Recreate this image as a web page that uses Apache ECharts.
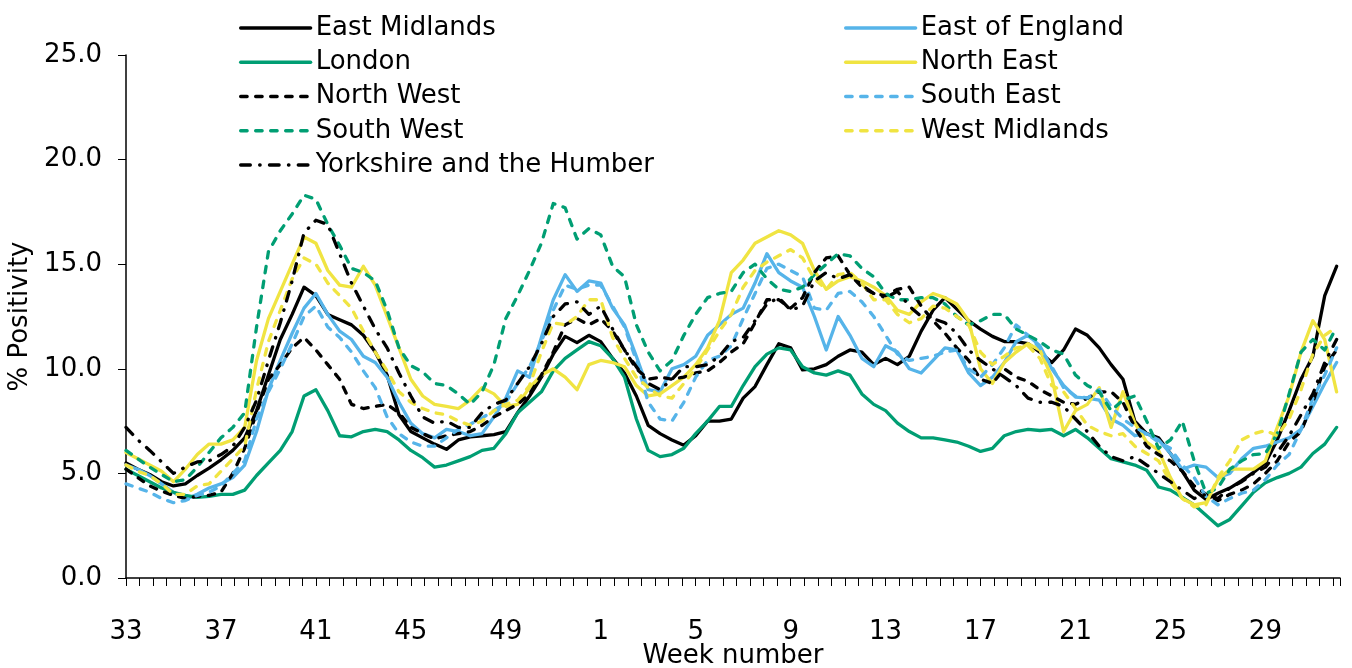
<!DOCTYPE html>
<html>
<head>
<meta charset="utf-8">
<title>% Positivity by region</title>
<script src="https://cdn.jsdelivr.net/npm/echarts@6/dist/echarts.min.js"></script>
<style>
  html, body { margin: 0; padding: 0; background: #fff; }
  #chart { width: 1352px; height: 668px; }
</style>
</head>
<body>
<div id="chart"></div>
<script>
// x positions: a reading every half week, day 0 = start of week 33
var days = [];
for (var j = 0; j < 103; j++) days.push(j * 3.5);

// one label every 28 days (4 weeks)
var weekLabels = ['33', '37', '41', '45', '49', '1', '5', '9', '13', '17', '21', '25', '29'];

var eastMidlands = [
  5.5, 5.2, 4.95, 4.6, 4.4, 4.5, 4.9, 5.25, 5.65, 6.1, 6.7, 8.0, 9.7, 11.4, 12.6, 13.9, 13.5, 12.6, 12.35, 12.1, 11.6, 10.8, 9.7, 7.8, 7.0, 6.7, 6.4,
  6.15, 6.6, 6.75, 6.8, 6.85, 7.0, 7.9, 8.7, 9.6, 10.7, 11.55, 11.25, 11.6, 11.3, 10.5, 9.8, 8.7, 7.3, 6.9, 6.6, 6.35, 6.8, 7.5, 7.5, 7.6,
  8.6, 9.15, 10.2, 11.2, 11.0, 9.95, 10.0, 10.2, 10.6, 10.9, 10.8, 10.2, 10.5, 10.2, 10.6, 11.8, 12.8, 13.4, 12.85, 12.3, 11.9, 11.55, 11.3, 11.3, 11.2, 10.8,
  10.3, 10.9, 11.9, 11.6, 11.0, 10.2, 9.5, 7.5, 6.9, 6.7, 5.95, 5.1, 4.2, 3.75, 4.05, 4.3, 4.65, 5.05, 5.5, 6.6, 8.0, 9.5, 10.6, 13.5, 14.9
];
var eastOfEngland = [
  5.4, 5.2, 4.9, 4.5, 4.1, 3.75, 4.0, 4.3, 4.5, 4.8, 5.4, 7.0, 9.0, 10.4, 11.7, 12.9, 13.6, 12.6, 11.8, 11.4, 10.6, 10.3, 9.6, 8.4, 7.4, 6.9, 6.7,
  7.1, 7.0, 6.8, 6.9, 7.7, 8.6, 9.9, 9.6, 11.5, 13.3, 14.5, 13.7, 14.2, 14.1, 12.9, 12.1, 10.6, 9.0, 8.9, 10.0, 10.2, 10.6, 11.6, 12.1, 12.6,
  12.9, 14.1, 15.5, 14.6, 14.2, 13.9, 12.5, 10.9, 12.5, 11.6, 10.5, 10.1, 11.1, 10.8, 10.0, 9.8, 10.4, 11.0, 10.9, 9.8, 9.2, 9.6, 10.3, 11.3, 11.6, 11.1,
  10.0, 9.2, 8.65, 8.6, 8.5, 7.6, 7.3, 6.8, 6.9, 6.6, 5.95, 5.2, 5.4, 5.3, 4.8, 5.0, 5.7, 6.2, 6.3, 6.5, 6.7, 7.1, 8.2, 9.3, 10.3
];
var london = [
  5.2, 4.9, 4.6, 4.3, 4.1, 3.95, 3.85, 3.9, 4.0, 4.0, 4.2, 4.9, 5.5, 6.1, 7.0, 8.7, 9.0, 8.0, 6.8, 6.75, 7.0, 7.1, 7.0, 6.6, 6.1, 5.75, 5.3,
  5.4, 5.6, 5.8, 6.1, 6.2, 6.9, 7.9, 8.4, 8.9, 9.9, 10.5, 10.9, 11.3, 11.1, 10.5, 9.6, 7.6, 6.1, 5.8, 5.9, 6.2, 6.9, 7.5, 8.2, 8.2,
  9.2, 10.1, 10.7, 11.0, 10.9, 10.1, 9.8, 9.7, 9.9, 9.7, 8.8, 8.3, 8.0, 7.4, 7.0, 6.7, 6.7, 6.6, 6.5, 6.3, 6.05, 6.2, 6.8, 7.0, 7.1, 7.05,
  7.1, 6.8, 7.1, 6.7, 6.2, 5.7, 5.55, 5.4, 5.15, 4.35, 4.2, 3.85, 3.5, 3.0, 2.5, 2.8, 3.45, 4.1, 4.55, 4.8, 5.0, 5.3, 5.95, 6.4, 7.2
];
var northEast = [
  6.0, 5.7, 5.4, 5.1, 4.6, 5.2, 5.9, 6.4, 6.4, 6.6, 7.2, 10.4, 12.4, 13.7, 15.0, 16.3, 16.0, 14.7, 14.0, 13.9, 14.9, 14.0, 12.5, 11.0, 9.5, 8.7, 8.3,
  8.2, 8.1, 8.5, 9.1, 8.8, 8.2, 8.3, 9.1, 9.7, 10.0, 9.6, 9.0, 10.2, 10.4, 10.3, 10.1, 9.2, 8.7, 8.8, 9.2, 9.6, 10.2, 11.0, 12.3, 14.6,
  15.2, 16.0, 16.3, 16.6, 16.4, 16.0, 14.7, 13.8, 14.2, 14.4, 14.2, 13.9, 13.5, 12.8, 12.6, 13.2, 13.6, 13.4, 13.1, 12.3, 10.0, 9.3, 10.3, 10.8, 11.2, 10.9,
  9.6, 7.0, 8.0, 8.3, 9.1, 7.2, 8.9, 7.4, 6.5, 6.1, 4.8, 3.8, 3.5, 3.6, 4.7, 5.2, 5.2, 5.2, 5.6, 7.2, 8.7, 10.8, 12.3, 11.4, 8.9
];
var northWest = [
  5.2, 4.8, 4.4, 4.15, 3.95, 3.8, 3.9, 3.95, 4.1, 5.0, 6.2, 7.9, 9.5, 10.2, 11.0, 11.5, 10.9, 10.2, 9.5, 8.3, 8.1, 8.2, 8.3, 7.9, 7.2, 6.9, 6.65,
  6.8, 6.9, 7.0, 7.3, 7.7, 8.0, 8.3, 8.8, 9.7, 10.8, 12.1, 12.4, 12.1, 12.4, 11.8, 10.9, 10.0, 9.5, 9.6, 9.5, 9.6, 9.8, 9.9, 10.3, 10.8,
  11.2, 12.2, 13.3, 13.3, 12.9, 13.4, 14.6, 15.3, 15.4, 14.5, 13.9, 13.6, 13.5, 13.8, 13.9, 13.0, 12.3, 11.7, 11.0, 10.4, 9.5, 9.3, 10.0, 9.6, 9.4, 9.0,
  8.7, 8.4, 8.3, 8.6, 8.9, 8.9, 8.4, 7.2, 6.3, 5.9, 5.6, 5.1, 4.4, 4.0, 3.7, 4.0, 4.2, 4.5, 5.0, 5.6, 6.5, 7.0, 8.4, 10.1, 10.9
];
var southEast = [
  4.5, 4.3, 4.1, 3.8, 3.6, 3.7, 3.95, 4.1, 4.4, 5.0, 5.6, 7.6, 8.9, 10.0, 11.2, 12.5, 13.0, 12.0, 11.5, 10.8, 9.9, 9.1, 7.7, 6.9, 6.5, 6.3, 6.3,
  6.7, 7.1, 7.35, 7.65, 8.0, 8.4, 9.3, 10.1, 11.3, 12.8, 14.0, 13.8, 14.0, 14.0, 13.0, 12.0, 10.4, 8.4, 7.6, 7.5, 8.4, 9.6, 10.4, 10.6, 11.1,
  12.4, 13.6, 14.8, 15.0, 14.7, 14.4, 12.9, 12.8, 13.6, 13.7, 13.2, 12.5, 11.6, 10.7, 10.4, 10.5, 10.6, 10.8, 10.9, 10.0, 9.6, 10.2, 11.0, 12.1, 11.6, 11.0,
  10.1, 9.1, 8.7, 8.6, 9.0, 8.2, 7.6, 7.2, 6.9, 6.5, 6.2, 5.4, 4.8, 3.9, 3.5, 3.8, 4.05, 4.2, 4.7, 5.4, 5.9, 7.1, 8.6, 9.7, 11.0
];
var southWest = [
  6.1, 5.7, 5.3, 4.95, 4.6, 4.7, 5.3, 6.0, 6.7, 7.2, 7.9, 12.0, 15.6, 16.6, 17.4, 18.3, 18.1, 16.9, 15.9, 14.8, 14.6, 14.2, 12.8, 11.0, 10.15, 9.85, 9.3,
  9.2, 8.8, 8.3, 8.9, 10.2, 12.4, 13.5, 14.7, 16.0, 17.9, 17.7, 16.2, 16.7, 16.4, 14.9, 14.4, 12.1, 10.8, 9.9, 10.4, 11.6, 12.6, 13.4, 13.6, 13.7,
  14.6, 15.0, 14.3, 13.8, 13.7, 13.9, 14.5, 15.0, 15.5, 15.4, 14.8, 14.4, 13.6, 13.3, 13.3, 13.4, 13.4, 13.1, 12.5, 12.1, 12.3, 12.6, 12.6, 11.9, 11.6, 11.3,
  10.9, 10.7, 9.7, 9.2, 8.9, 8.0, 8.5, 8.7, 7.5, 6.2, 6.6, 7.5, 5.6, 4.05, 4.3, 5.2, 5.6, 5.9, 5.95, 6.9, 8.8, 10.8, 11.4, 10.9, 12.0
];
var westMidlands = [
  5.4, 5.1, 4.9, 4.5, 4.0, 4.0, 4.4, 4.5, 5.1, 5.7, 6.3, 9.0, 11.3, 12.8, 14.3, 15.3, 15.0, 14.1, 13.5, 12.9, 11.8, 10.8, 9.9, 8.9, 8.4, 8.1, 7.9,
  7.8, 7.5, 7.3, 7.5, 8.0, 8.3, 8.5, 9.2, 10.8, 12.2, 12.1, 12.5, 13.3, 13.3, 11.5, 10.5, 9.6, 9.1, 8.7, 8.6, 9.3, 10.0, 10.9, 11.8, 12.6,
  13.9, 14.7, 15.1, 15.4, 15.7, 15.3, 14.3, 13.8, 14.5, 14.6, 14.1, 13.3, 13.3, 12.6, 12.2, 12.4, 13.0, 12.9, 12.5, 12.1, 10.8, 10.2, 10.6, 11.0, 11.1, 10.5,
  9.2, 8.9, 8.1, 7.3, 7.0, 6.8, 6.9, 6.3, 5.95, 5.6, 4.6, 3.8, 3.4, 3.5, 4.8, 5.6, 6.6, 6.9, 7.05, 6.8, 7.6, 9.0, 10.7, 11.6, 12.0
];
var yorkshire = [
  7.2, 6.6, 6.1, 5.55, 5.0, 5.3, 5.55, 5.6, 5.9, 6.3, 7.2, 8.5, 10.4, 12.2, 14.2, 16.5, 17.1, 16.9, 15.5, 14.1, 13.0, 11.9, 11.0, 9.8, 8.7, 7.7, 7.4,
  7.5, 7.2, 7.2, 7.9, 8.3, 8.5, 9.3, 10.1, 11.2, 12.5, 13.1, 13.2, 12.6, 13.0, 11.9, 10.9, 10.1, 9.3, 9.0, 9.5, 10.1, 10.1, 10.2, 10.6, 11.3,
  11.5, 12.3, 13.1, 13.4, 12.8, 13.0, 14.2, 14.6, 14.3, 14.5, 14.0, 13.6, 13.4, 13.7, 13.0, 12.5, 12.4, 12.2, 11.7, 10.9, 10.4, 10.0, 9.6, 9.2, 8.6, 8.4,
  8.4, 8.2, 7.6, 7.0, 6.3, 5.8, 5.6, 5.8, 5.4, 5.0, 4.6, 4.2, 3.8, 4.0, 3.8, 4.3, 4.6, 5.0, 5.3, 6.0, 6.8, 7.8, 8.8, 10.3, 11.4
];

var BLACK = '#000000', GREEN = '#009E73', BLUE = '#56B4E9', YELLOW = '#F0E442';
var FONT = 'DejaVu Sans';
// round caps add half a line width at each end of a dash
var DASH = [6.5, 8.5];
var DASHDOT = [9.7, 9.3, 0.5, 9.3];

function pairs(vals) {
  return days.map(function (d, i) { return [d, vals[i]]; });
}

function line(name, vals, color, type) {
  return {
    name: name,
    type: 'line',
    data: pairs(vals),
    symbol: 'none',
    showSymbol: false,
    smooth: false,
    itemStyle: { color: color },
    lineStyle: { color: color, width: 3.3, type: type, cap: 'round', join: 'round' },
    emphasis: { disabled: true }
  };
}

var legendText = { fontFamily: FONT, fontSize: 26, lineHeight: 26, color: '#000' };
var legendBase = {
  orient: 'vertical', top: 10,
  itemWidth: 70, itemHeight: 14, itemGap: 8.25,
  selectedMode: false,
  textStyle: legendText,
  itemStyle: { opacity: 0 },
  lineStyle: { width: 3.3, cap: 'round' }
};

var chart = echarts.init(document.getElementById('chart'));
chart.setOption({
  animation: false,
  backgroundColor: '#fff',
  grid: { left: 126, right: 12, top: 55, bottom: 90, outerBoundsMode: 'none' },
  legend: [
    Object.assign({}, legendBase, {
      left: 234,
      data: ['East Midlands', 'London', 'North West', 'South West', 'Yorkshire and the Humber']
    }),
    Object.assign({}, legendBase, {
      left: 839,
      data: ['East of England', 'North East', 'South East', 'West Midlands']
    })
  ],
  xAxis: {
    type: 'value',
    min: 0,
    max: 358,
    interval: 4,
    name: 'Week number',
    nameLocation: 'middle',
    nameGap: 65,
    nameMoveOverlap: false,
    nameTextStyle: { fontFamily: FONT, fontSize: 26, color: '#000' },
    axisLine: { show: true, lineStyle: { color: '#000', width: 1.5 } },
    axisTick: { show: true, length: 8, lineStyle: { color: '#000', width: 1 } },
    axisLabel: {
      margin: 41,
      fontFamily: FONT, fontSize: 26, color: '#000',
      formatter: function (v) {
        return v % 28 === 0 ? (weekLabels[v / 28] || '') : '';
      }
    },
    splitLine: { show: false }
  },
  yAxis: {
    type: 'value',
    min: 0,
    max: 25,
    interval: 5,
    name: '% Positivity',
    nameLocation: 'middle',
    nameGap: 92,
    nameRotate: 90,
    nameTextStyle: { fontFamily: FONT, fontSize: 26, color: '#000' },
    axisLine: { show: true, lineStyle: { color: '#000', width: 1.5 } },
    axisTick: { show: true, length: 8, lineStyle: { color: '#000', width: 1 } },
    axisLabel: {
      margin: 24,
      fontFamily: FONT, fontSize: 26, color: '#000',
      formatter: function (v) { return v.toFixed(1); }
    },
    splitLine: { show: false }
  },
  series: [
    line('East Midlands', eastMidlands, BLACK, 'solid'),
    line('East of England', eastOfEngland, BLUE, 'solid'),
    line('London', london, GREEN, 'solid'),
    line('North East', northEast, YELLOW, 'solid'),
    line('North West', northWest, BLACK, DASH),
    line('South East', southEast, BLUE, DASH),
    line('South West', southWest, GREEN, DASH),
    line('West Midlands', westMidlands, YELLOW, DASH),
    line('Yorkshire and the Humber', yorkshire, BLACK, DASHDOT)
  ]
});
</script>
</body>
</html>
